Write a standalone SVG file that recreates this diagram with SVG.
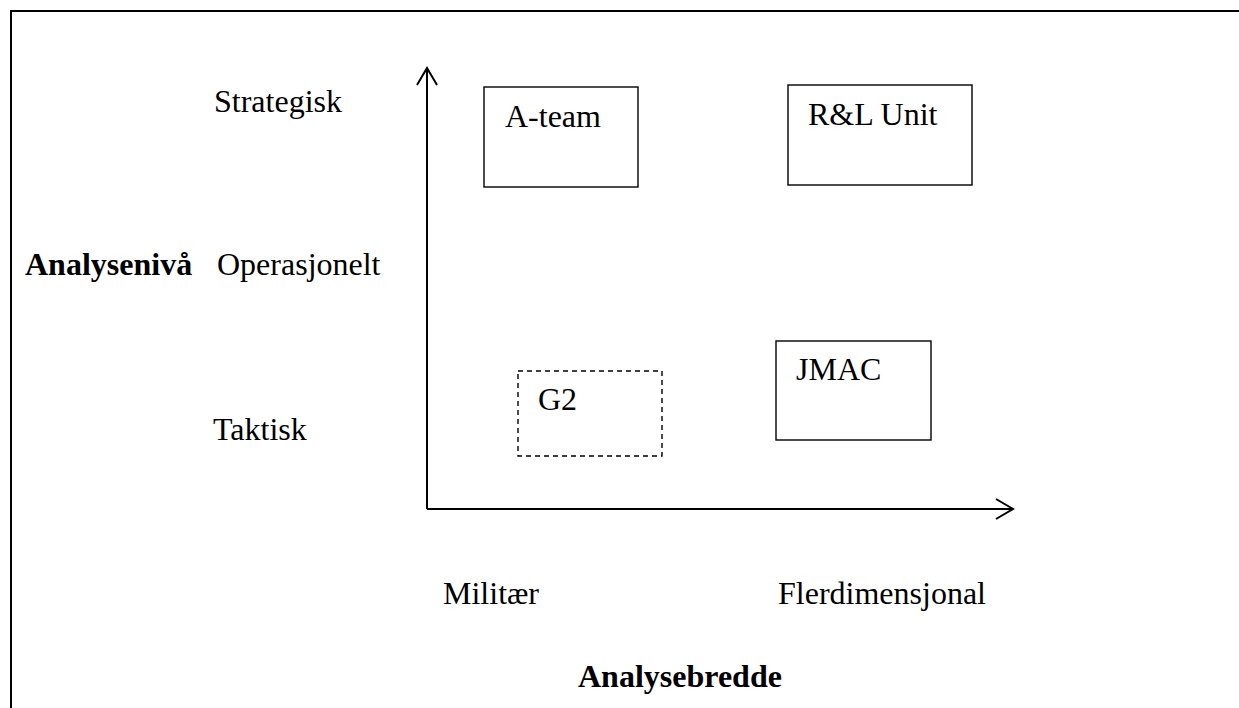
<svg xmlns="http://www.w3.org/2000/svg" width="1239" height="708" viewBox="0 0 1239 708">
<style>
text{font-family:"Liberation Serif","Times New Roman",serif;font-size:32px;fill:#000}
.b{font-weight:bold}
.box{fill:#fff;stroke:#000;stroke-width:1.4}
.dash{stroke-dasharray:5 4}
.ax{fill:none;stroke:#000;stroke-width:2}
</style>
<rect width="1239" height="708" fill="#fff"/>
<g id="frame"><path class="ax" d="M11 708 V11 H1239" stroke-width="2.2"/></g>
<g id="connectors">
<path class="ax" d="M427 509 V69 M427 509 H1013"/>
<path class="ax" d="M417 85 L427 68 L437 85"/>
<path class="ax" d="M996 499 L1013 509 L996 519"/>
</g>
<g id="labels">
<text x="214" y="112">Strategisk</text>
<text x="25" y="275" class="b">Analysenivå</text>
<text x="217" y="275">Operasjonelt</text>
<text x="213" y="440">Taktisk</text>
<text x="443" y="604">Militær</text>
<text x="778" y="604">Flerdimensjonal</text>
<text x="578" y="687" class="b">Analysebredde</text>
</g>
<g id="ateam"><rect class="box" x="484" y="87" width="154" height="100"/><text x="505" y="127">A-team</text></g>
<g id="rlunit"><rect class="box" x="788" y="85" width="184" height="100"/><text x="808" y="125">R&amp;L Unit</text></g>
<g id="g2"><rect class="box dash" x="518" y="371" width="144" height="85"/><text x="538" y="410">G2</text></g>
<g id="jmac"><rect class="box" x="776" y="341" width="155" height="99"/><text x="796" y="380">JMAC</text></g>
</svg>
